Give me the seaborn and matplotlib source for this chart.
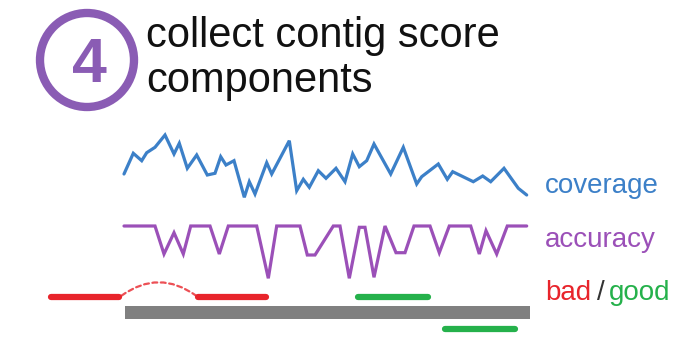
import matplotlib
matplotlib.use("Agg")
import matplotlib.pyplot as plt
import seaborn as sns
import pandas as pd
from matplotlib.patches import Circle, FancyArrowPatch

# ---- data (canvas units: x to the right, y downward) ----
coverage_x = [124, 133.3, 141.7, 146.7, 155, 165, 174, 179.3, 187.3, 196.7, 207.3, 215,
              220.7, 226, 234, 244.3, 249.3, 255, 266.7, 271.7, 289.3, 296.7, 303.3,
              309.3, 318.3, 326, 336, 345, 352.7, 359.3, 366.7, 374, 390.7, 403.3,
              416.7, 421.7, 438.3, 447.3, 452.7, 473.3, 482.7, 490.7, 504, 518.3, 526.7]
coverage_y = [174, 153.3, 160.7, 152.7, 147.3, 135, 154, 143.3, 168.3, 155, 175, 173.3,
              156.7, 165, 160.7, 197.3, 181.7, 194, 162.7, 174, 140.7, 190.7, 179.3,
              187.3, 170.7, 178.3, 168.3, 181.7, 154, 166.7, 160.7, 144, 174, 147.3,
              184, 176.7, 164, 179.3, 171.7, 181.7, 176, 181.7, 168.3, 188.3, 195]

accuracy_x = [124, 155, 164, 174, 183.3, 190.7, 210, 219.3, 228.3, 256.7, 268.3, 276.7,
              300, 307.3, 315, 333.3, 340, 349.3, 359.3, 365, 374, 385, 396, 405, 414,
              430, 439.3, 449.3, 470.7, 479.3, 486, 496.7, 507.3, 526.7]
accuracy_y = [226, 226, 254, 232.7, 254, 226, 226, 254, 226, 226, 278.3, 226,
              226, 255, 255, 226, 226, 278.3, 227.3, 227.3, 277.3, 226, 252.7, 252.7, 226,
              226, 252.7, 226, 226, 254, 230.7, 254, 226, 226]

# contig bar and read placements: (start, end, y)
contig = (125, 530, 312.7)
bad_reads = [(50.7, 119.3, 297.3), (198.3, 266, 297.3)]
good_reads = [(358.3, 428.3, 296.5), (445, 515, 329.3)]

title_lines = ["collect contig score", "components"]
step_label = "4"
series_labels = ["coverage", "accuracy"]

BLUE = "#3c80c8"
PURPLE = "#9b50b8"
CIRCLE_PURPLE = "#8a5cb4"
RED = "#e8242b"
GREEN = "#25b14b"
GRAY = "#808080"

sns.set_theme(style="white")
plt.rcParams["font.family"] = ["Liberation Sans", "DejaVu Sans"]

W, H = 693, 347
fig = plt.figure(figsize=(W / 100, H / 100), dpi=100)
ax = fig.add_axes([0, 0, 1, 1])
ax.set_xlim(0, W)
ax.set_ylim(H, 0)
ax.set_axis_off()

# coverage trace
cov = pd.DataFrame({"x": coverage_x, "y": coverage_y})
sns.lineplot(data=cov, x="x", y="y", ax=ax, color=BLUE, lw=2.3, sort=False,
             estimator=None, solid_joinstyle="miter")

# accuracy trace
acc = pd.DataFrame({"x": accuracy_x, "y": accuracy_y})
sns.lineplot(data=acc, x="x", y="y", ax=ax, color=PURPLE, lw=2.3, sort=False,
             estimator=None, solid_joinstyle="miter")

# contig bar
ax.barh(contig[2], contig[1] - contig[0], left=contig[0], height=13,
        color=GRAY, edgecolor="none")

# reads
def draw_read(x0, x1, y, color):
    seg = pd.DataFrame({"x": [x0, x1], "y": [y, y]})
    sns.lineplot(data=seg, x="x", y="y", ax=ax, color=color, lw=4.5,
                 sort=False, estimator=None, solid_capstyle="round")

for x0, x1, y in bad_reads:
    draw_read(x0, x1, y, RED)
for x0, x1, y in good_reads:
    draw_read(x0, x1, y, GREEN)

# split-read link between the two bad pieces (arches upward on screen)
link = FancyArrowPatch((bad_reads[0][1], bad_reads[0][2]),
                       (bad_reads[1][0], bad_reads[1][2]),
                       connectionstyle="arc3,rad=-0.38", arrowstyle="-",
                       linestyle=(0, (2.2, 1.6)), color=RED, lw=1.6, alpha=0.8)
ax.add_patch(link)

# step badge
ax.add_patch(Circle((87, 60), 47, fill=False, edgecolor=CIRCLE_PURPLE, lw=6))
ax.text(89, 65, step_label, ha="center", va="center", fontsize=45,
        fontweight="bold", color=CIRCLE_PURPLE)

# title
ax.text(146, 47, title_lines[0], ha="left", va="baseline", fontsize=30, color="#111111")
ax.text(146, 92, title_lines[1], ha="left", va="baseline", fontsize=30, color="#111111")

# series labels
ax.text(545, 193, series_labels[0], ha="left", va="baseline", fontsize=20, color=BLUE)
ax.text(545, 247, series_labels[1], ha="left", va="baseline", fontsize=20, color=PURPLE)
ax.text(545, 300, "bad", ha="left", va="baseline", fontsize=20, color=RED)
ax.text(597, 300, "/", ha="left", va="baseline", fontsize=20, color="#333333")
ax.text(609, 300, "good", ha="left", va="baseline", fontsize=20, color=GREEN)

fig.savefig("out.png", dpi=100, facecolor="white")
